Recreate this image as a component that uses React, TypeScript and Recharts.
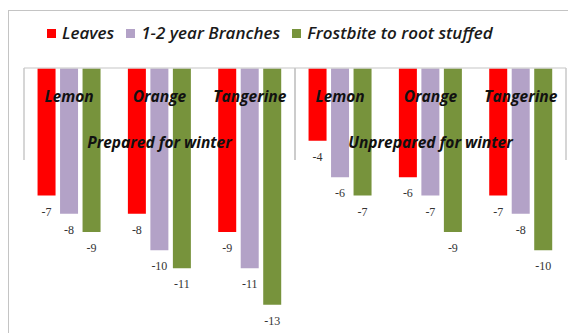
import React from 'react';
import { BarChart, Bar, XAxis, YAxis, Legend, LabelList } from 'recharts';

const categories = ['Lemon', 'Orange', 'Tangerine', 'Lemon', 'Orange', 'Tangerine'];
const groups = [
  'Prepared for winter',
  'Prepared for winter',
  'Prepared for winter',
  'Unprepared for winter',
  'Unprepared for winter',
  'Unprepared for winter',
];
const leaves = [-7, -8, -9, -4, -6, -7];
const branches = [-8, -10, -11, -6, -7, -8];
const frostbite = [-9, -11, -13, -7, -9, -10];
const seriesKeys = ['leaves', 'branches', 'frostbite'];
const seriesNames = ['Leaves', '1-2 year Branches', 'Frostbite to root stuffed'];
const colors = ['#ff0000', '#b3a2c7', '#77933c'];
const yDomain: [number, number] = [-14, 0];

const data = categories.map((c, i) => ({
  id: `${c}-${i}`,
  name: c,
  group: groups[i],
  leaves: leaves[i],
  branches: branches[i],
  frostbite: frostbite[i],
}));

const labelFont = "'Open Sans', 'DejaVu Sans', sans-serif";

const CategoryTick = (props: any) => {
  const { x, y, payload, index, width, visibleTicksCount } = props;
  const i: number = payload?.index ?? index;
  const half: number =
    payload?.offset && payload.offset > 0 ? payload.offset : width / visibleTicksCount / 2;
  const isStart = i === 0 || groups[i - 1] !== groups[i];
  const isEnd = i === groups.length - 1 || groups[i + 1] !== groups[i];
  let span = 0;
  if (isStart) {
    let j = i;
    while (j < groups.length && groups[j] === groups[i]) j++;
    span = j - i;
  }
  return (
    <g>
      <text
        x={x}
        y={y + 28}
        textAnchor="middle"
        dominantBaseline="central"
        fontFamily={labelFont}
        fontStyle="italic"
        fontWeight={700}
        fontSize={15.5}
        fill="#111"
      >
        {categories[i]}
      </text>
      {isStart && (
        <text
          x={x - half + span * half}
          y={y + 74}
          textAnchor="middle"
          dominantBaseline="central"
          fontFamily={labelFont}
          fontStyle="italic"
          fontWeight={700}
          fontSize={15.5}
          fill="#111"
        >
          {groups[i]}
        </text>
      )}
      {isStart && (
        <line x1={x - half} x2={x - half} y1={y} y2={y + 92} stroke="#c8c8c8" strokeWidth={1.5} />
      )}
      {isEnd && (
        <line x1={x + half} x2={x + half} y1={y} y2={y + 92} stroke="#c8c8c8" strokeWidth={1.5} />
      )}
    </g>
  );
};

const ValueLabel = (props: any) => {
  const { x, y, width, height, value } = props;
  const bottom = Math.max(Number(y), Number(y) + Number(height));
  return (
    <text
      x={Number(x) + Number(width) / 2}
      y={bottom + 16}
      textAnchor="middle"
      dominantBaseline="central"
      fontFamily="'Liberation Serif', serif"
      fontSize={12}
      fill="#333"
    >
      {value}
    </text>
  );
};

const LegendContent = () => (
  <div
    style={{
      display: 'flex',
      alignItems: 'center',
      fontFamily: labelFont,
      fontStyle: 'italic',
      fontWeight: 600,
      fontSize: 17,
      color: '#1a1a1a',
      whiteSpace: 'nowrap',
      lineHeight: '20px',
    }}
  >
    {seriesNames.map((n, i) => (
      <div key={n} style={{ display: 'flex', alignItems: 'center', marginRight: 12 }}>
        <span
          style={{ display: 'inline-block', width: 9, height: 9, background: colors[i], marginRight: 6 }}
        />
        <span>{n}</span>
      </div>
    ))}
  </div>
);

export default function App() {
  return (
    <div style={{ paddingTop: 2 }}>
      <div
        style={{
          borderTop: '1.5px solid #c4c4c4',
          borderLeft: '1.5px solid #c4c4c4',
          width: 567,
          height: 322,
          background: '#fff',
        }}
      >
        <BarChart
          width={567}
          height={322}
          data={data}
          margin={{ top: 37, right: 10, bottom: 10, left: 15 }}
          barCategoryGap="15%"
          barGap={4.5}
        >
          <YAxis hide domain={yDomain} type="number" />
          {seriesKeys.map((k, i) => (
            <Bar key={k} dataKey={k} name={seriesNames[i]} fill={colors[i]} isAnimationActive={false}>
              <LabelList dataKey={k} content={ValueLabel} />
            </Bar>
          ))}
          <XAxis
            dataKey="id"
            orientation="top"
            height={20}
            tickSize={0}
            tickMargin={0}
            tickLine={false}
            axisLine={{ stroke: '#d9d9d9', strokeWidth: 1.5 }}
            tick={CategoryTick}
            interval={0}
          />
          <Legend
            verticalAlign="middle"
            align="center"
            layout="horizontal"
            content={LegendContent}
            wrapperStyle={{ top: 12, left: 38, width: 540, height: 20 }}
          />
        </BarChart>
      </div>
    </div>
  );
}
